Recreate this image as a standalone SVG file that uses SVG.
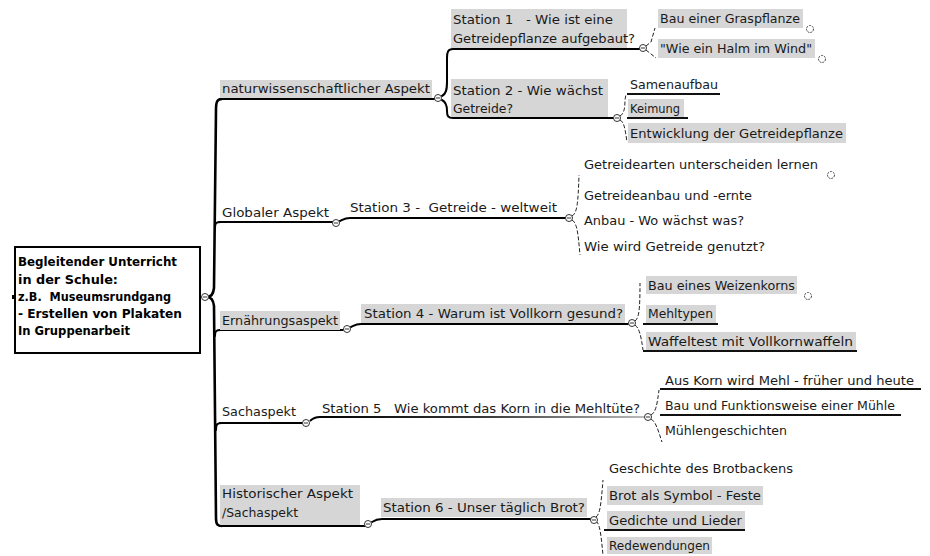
<svg xmlns="http://www.w3.org/2000/svg" width="930" height="556" viewBox="0 0 930 556" xml:space="preserve">
<defs>
<style>
text{font-family:"DejaVu Sans","Liberation Sans",sans-serif;font-size:12px;fill:#1a1a1a;white-space:pre}
.b{font-weight:bold;fill:#000}
.bg{fill:#d6d6d6}
.ln{fill:none;stroke:#000;stroke-width:2;stroke-linecap:round}
.ul{fill:none;stroke:#111;stroke-width:1.8}
.ds{fill:none;stroke:#222;stroke-width:1;stroke-dasharray:4 2}
.c{fill:#fff;stroke:#333;stroke-width:1}
.cd{fill:#fff;stroke:#444;stroke-width:1;stroke-dasharray:2 1}
.m{stroke:#333;stroke-width:1}
</style>
<linearGradient id="fade" x1="0" y1="0" x2="1" y2="0">
<stop offset="0" stop-color="#000"/><stop offset="0.5" stop-color="#333"/><stop offset="1" stop-color="#bbb"/>
</linearGradient>
</defs>
<rect width="930" height="556" fill="#fff"/>
<g id="connectors">
<path d="M222,99 C217,99 216,102 216,110 L214,288 Q213,297 207,297 Q213,297 214,306 L216,518 C216,525 218,526 222,526" fill="none" stroke="#000" stroke-width="2.6"/>
<path class="ln" d="M215,228 C215,223 216,222 221,222"/>
<path class="ln" d="M215,336 C215,331 216,330 221,330"/>
<path class="ln" d="M216,430 C216,424 217,423 222,423"/>
<path class="ln" d="M220,99 L435,99"/>
<path class="ln" d="M220,222 L333,222"/>
<path class="ln" d="M220,330 L343,330"/>
<path class="ln" d="M220,423 L302,423"/>
<path class="ln" d="M220,526 L365,526"/>
<path class="ln" d="M442,96 C446,94 447,90 447,82 L447,58 C447,52 448,49 453,49 L640,49"/>
<path class="ln" d="M442,100 C446,102 447,106 447,111 C447,116 448,118 453,118 L614,118"/>
<path class="ln" d="M340,221 C344,219 345,218 350,218 L566,218"/>
<path class="ln" d="M351,327 C355,325 356,324 361,324 L628,324"/>
<path d="M310,421 C313,418 315,417 320,417 L645,417" fill="none" stroke="url(#fade)" stroke-width="2"/>
<path class="ln" d="M372,522 C375,520 377,519 382,519 L590,519"/>
<path class="ds" d="M646,46 L651,42 L655,28"/>
<path class="ds" d="M646,50 L651,54 L656,58"/>
<path class="ds" d="M620,116 C624,114 625,108 625,100 L626,94"/>
<path class="ds" d="M620,120 C624,122 625,128 627,142"/>
<path class="ul" d="M627,94 L720,94"/>
<path class="ul" d="M627,118 L688,118"/>
<path class="ds" d="M572,216 C577,213 578,205 579,175"/>
<path class="ds" d="M572,220 C577,223 578,232 580,255"/>
<path class="ds" d="M635,321 C639,318 640,310 640,283"/>
<path class="ds" d="M635,325 C639,328 641,335 643,350"/>
<path class="ul" d="M643,324 L718,324"/>
<path class="ul" d="M643,351 L857,351"/>
<path class="ds" d="M651,415 C656,412 657,405 659,390"/>
<path class="ds" d="M651,419 C656,422 658,430 662,442"/>
<path class="ul" d="M660,389 L921,389"/>
<path class="ul" d="M660,415 L901,415"/>
<path class="ds" d="M596,517 C600,514 601,505 603,480"/>
<path class="ds" d="M596,521 C600,524 601,535 603,555"/>
<path class="ul" d="M604,530 L745,530"/>
</g>
<g id="root">
<rect x="15" y="247" width="185" height="106" fill="#fff" stroke="#000" stroke-width="2"/>
<rect x="12" y="295" width="3" height="4" fill="#000"/>
<text class="b" x="18" y="266" textLength="159" lengthAdjust="spacingAndGlyphs">Begleitender Unterricht</text>
<text class="b" x="18" y="284" textLength="100" lengthAdjust="spacingAndGlyphs">in der Schule:</text>
<text class="b" x="18" y="301" textLength="153" lengthAdjust="spacingAndGlyphs">z.B.  Museumsrundgang</text>
<text class="b" x="18" y="318" textLength="164" lengthAdjust="spacingAndGlyphs">- Erstellen von Plakaten</text>
<text class="b" x="18" y="335" textLength="112" lengthAdjust="spacingAndGlyphs">In Gruppenarbeit</text>
<circle class="c" cx="205" cy="297" r="3.5"/><line class="m" x1="203" y1="297" x2="207" y2="297"/>
</g>
<g id="n-natur">
<rect class="bg" x="220" y="80" width="212" height="18"/>
<text x="222" y="93" textLength="208" lengthAdjust="spacingAndGlyphs">naturwissenschaftlicher Aspekt</text>
<circle class="c" cx="438" cy="98" r="3.5"/><line class="m" x1="436" y1="98" x2="440" y2="98"/>
</g>
<g id="n-global">
<text x="222" y="217" textLength="107" lengthAdjust="spacingAndGlyphs">Globaler Aspekt</text>
<circle class="c" cx="336" cy="223" r="3.5"/><line class="m" x1="334" y1="223" x2="338" y2="223"/>
</g>
<g id="n-ernaehrung">
<rect class="bg" x="220" y="311" width="120" height="19"/>
<text x="222" y="325" textLength="116" lengthAdjust="spacingAndGlyphs">Ernährungsaspekt</text>
<circle class="c" cx="347" cy="329" r="3.5"/><line class="m" x1="345" y1="329" x2="349" y2="329"/>
</g>
<g id="n-sach">
<text x="222" y="416" textLength="74" lengthAdjust="spacingAndGlyphs">Sachaspekt</text>
<circle class="c" cx="306" cy="423" r="3.5"/><line class="m" x1="304" y1="423" x2="308" y2="423"/>
</g>
<g id="n-hist">
<rect class="bg" x="220" y="485" width="140" height="40"/>
<text x="222" y="498" textLength="131" lengthAdjust="spacingAndGlyphs">Historischer Aspekt</text>
<text x="222" y="517" textLength="76" lengthAdjust="spacingAndGlyphs">/Sachaspekt</text>
<circle class="c" cx="368" cy="524" r="3.5"/><line class="m" x1="366" y1="524" x2="370" y2="524"/>
</g>
<g id="n-st1">
<rect class="bg" x="451" y="9" width="176" height="39"/>
<text x="453" y="24" textLength="160" lengthAdjust="spacingAndGlyphs">Station 1   - Wie ist eine</text>
<text x="453" y="43" textLength="182" lengthAdjust="spacingAndGlyphs">Getreidepflanze aufgebaut?</text>
<circle class="c" cx="643" cy="48" r="3.5"/><line class="m" x1="641" y1="48" x2="645" y2="48"/>
</g>
<g id="n-st2">
<rect class="bg" x="451" y="79" width="157" height="38"/>
<text x="453" y="95" textLength="150" lengthAdjust="spacingAndGlyphs">Station 2 - Wie wächst</text>
<text x="453" y="113" textLength="60" lengthAdjust="spacingAndGlyphs">Getreide?</text>
<circle class="c" cx="617" cy="118" r="3.5"/><line class="m" x1="615" y1="118" x2="619" y2="118"/>
</g>
<g id="n-st3">
<text x="350" y="212" textLength="207" lengthAdjust="spacingAndGlyphs">Station 3 -  Getreide - weltweit</text>
<circle class="c" cx="569" cy="218" r="3.5"/><line class="m" x1="567" y1="218" x2="571" y2="218"/>
</g>
<g id="n-st4">
<rect class="bg" x="361" y="304" width="264" height="19"/>
<text x="364" y="318" textLength="259" lengthAdjust="spacingAndGlyphs">Station 4 - Warum ist Vollkorn gesund?</text>
<circle class="c" cx="632" cy="323" r="3.5"/><line class="m" x1="630" y1="323" x2="634" y2="323"/>
</g>
<g id="n-st5">
<text x="322" y="413" textLength="318" lengthAdjust="spacingAndGlyphs">Station 5   Wie kommt das Korn in die Mehltüte?</text>
<circle class="c" cx="648" cy="417" r="3.5"/><line class="m" x1="646" y1="417" x2="650" y2="417"/>
</g>
<g id="n-st6">
<rect class="bg" x="381" y="498" width="206" height="19"/>
<text x="383" y="512" textLength="202" lengthAdjust="spacingAndGlyphs">Station 6 - Unser täglich Brot?</text>
<circle class="c" cx="594" cy="520" r="3.5"/><line class="m" x1="592" y1="520" x2="596" y2="520"/>
</g>
<g id="l-graspflanze">
<rect class="bg" x="658" y="9" width="145" height="19"/>
<text x="660" y="23" textLength="140" lengthAdjust="spacingAndGlyphs">Bau einer Graspflanze</text>
<circle class="cd" cx="810" cy="29" r="3.5"/>
</g>
<g id="l-halm">
<rect class="bg" x="658" y="39" width="157" height="19"/>
<text x="660" y="53" textLength="152" lengthAdjust="spacingAndGlyphs">"Wie ein Halm im Wind"</text>
<circle class="cd" cx="822" cy="59" r="3.5"/>
</g>
<g id="l-samen"><text x="630" y="89" textLength="88" lengthAdjust="spacingAndGlyphs">Samenaufbau</text></g>
<g id="l-keimung">
<rect class="bg" x="628" y="99" width="56" height="18"/>
<text x="630" y="113" textLength="50" lengthAdjust="spacingAndGlyphs">Keimung</text>
</g>
<g id="l-entwicklung">
<rect class="bg" x="628" y="123" width="218" height="20"/>
<text x="630" y="138" textLength="213" lengthAdjust="spacingAndGlyphs">Entwicklung der Getreidepflanze</text>
</g>
<g id="l-arten">
<text x="584" y="169" textLength="234" lengthAdjust="spacingAndGlyphs">Getreidearten unterscheiden lernen</text>
<circle class="cd" cx="831" cy="175" r="3.5"/>
</g>
<g id="l-anbau"><text x="584" y="200" textLength="168" lengthAdjust="spacingAndGlyphs">Getreideanbau und -ernte</text></g>
<g id="l-waechst"><text x="584" y="225" textLength="160" lengthAdjust="spacingAndGlyphs">Anbau - Wo wächst was?</text></g>
<g id="l-genutzt"><text x="584" y="251" textLength="181" lengthAdjust="spacingAndGlyphs">Wie wird Getreide genutzt?</text></g>
<g id="l-weizenkorn">
<rect class="bg" x="646" y="276" width="151" height="18"/>
<text x="648" y="290" textLength="147" lengthAdjust="spacingAndGlyphs">Bau eines Weizenkorns</text>
<circle class="cd" cx="808" cy="296" r="3.5"/>
</g>
<g id="l-mehltypen">
<rect class="bg" x="646" y="305" width="70" height="18"/>
<text x="648" y="318" textLength="65" lengthAdjust="spacingAndGlyphs">Mehltypen</text>
</g>
<g id="l-waffel">
<rect class="bg" x="646" y="332" width="210" height="18"/>
<text x="648" y="346" textLength="205" lengthAdjust="spacingAndGlyphs">Waffeltest mit Vollkornwaffeln</text>
</g>
<g id="l-korn"><text x="665" y="385" textLength="249" lengthAdjust="spacingAndGlyphs">Aus Korn wird Mehl - früher und heute</text></g>
<g id="l-muehle"><text x="665" y="410" textLength="230" lengthAdjust="spacingAndGlyphs">Bau und Funktionsweise einer Mühle</text></g>
<g id="l-muehlengesch"><text x="665" y="435" textLength="122" lengthAdjust="spacingAndGlyphs">Mühlengeschichten</text></g>
<g id="l-brotbacken"><text x="609" y="473" textLength="184" lengthAdjust="spacingAndGlyphs">Geschichte des Brotbackens</text></g>
<g id="l-symbol">
<rect class="bg" x="607" y="486" width="156" height="19"/>
<text x="609" y="500" textLength="152" lengthAdjust="spacingAndGlyphs">Brot als Symbol - Feste</text>
</g>
<g id="l-gedichte">
<rect class="bg" x="607" y="511" width="138" height="18"/>
<text x="609" y="525" textLength="133" lengthAdjust="spacingAndGlyphs">Gedichte und Lieder</text>
</g>
<g id="l-redewendungen">
<rect class="bg" x="607" y="537" width="105" height="17"/>
<text x="609" y="550" textLength="101" lengthAdjust="spacingAndGlyphs">Redewendungen</text>
</g>
</svg>
